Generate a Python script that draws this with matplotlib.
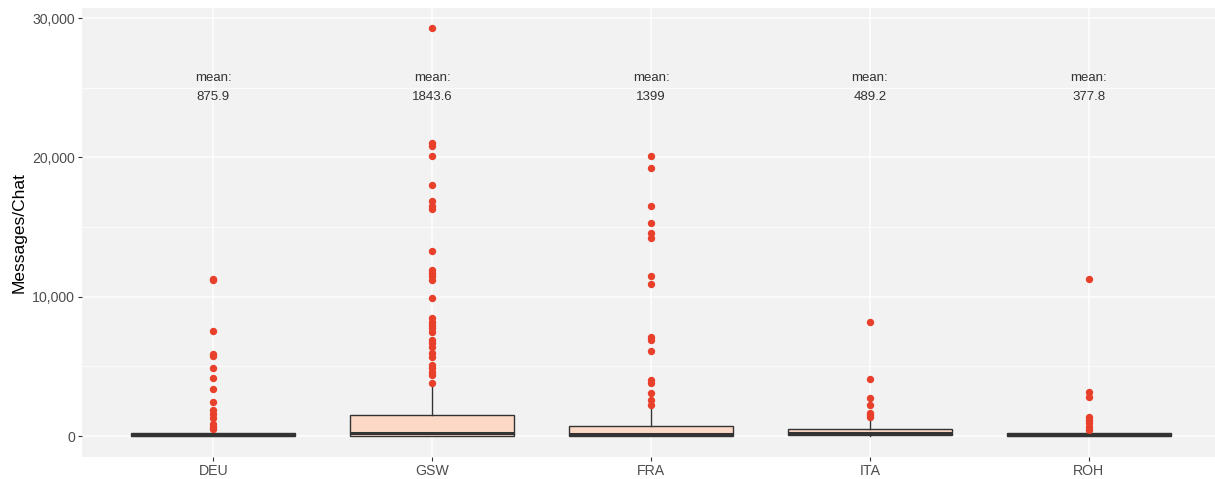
import matplotlib
matplotlib.use("Agg")
import matplotlib.pyplot as plt
from matplotlib.ticker import FuncFormatter, MultipleLocator

plt.rcParams["font.family"] = ["Liberation Sans", "DejaVu Sans"]

languages = ["DEU", "GSW", "FRA", "ITA", "ROH"]
means = [875.9, 1843.6, 1399, 489.2, 377.8]

# box statistics
q1 = [20, 30, 30, 60, 20]
medians = [60, 180, 120, 220, 60]
q3 = [230, 1510, 740, 500, 200]
whisker_low = [0, 0, 0, 0, 0]
whisker_high = [430, 3730, 2000, 1290, 400]

deu_out = [11300, 11200, 7540, 5890, 5740, 4880, 4160, 3370, 2440, 1870, 1580, 1290, 860, 650, 500]
gsw_out = [29300, 21000, 20800, 20100, 18000, 16900, 16500, 16300, 13300, 11900, 11700, 11450,
           11200, 9930, 8450, 8200, 7970, 7730, 7490, 6890, 6650, 6410, 5940, 5690, 5100,
           4860, 4620, 4380, 3780]
fra_out = [20100, 19200, 16500, 15300, 14600, 14200, 11500, 10900, 7100, 6900, 6100, 4000,
           3780, 3060, 2580, 2220]
ita_out = [8150, 4100, 2700, 2220, 1630, 1510, 1390]
roh_out = [11300, 3180, 2820, 1390, 1150, 910, 670, 430]
outliers = [deu_out, gsw_out, fra_out, ita_out, roh_out]

stats = []
for i, lang in enumerate(languages):
    stats.append(dict(label=lang, q1=q1[i], med=medians[i], q3=q3[i],
                      whislo=whisker_low[i], whishi=whisker_high[i], fliers=outliers[i]))

W, H = 1215, 479
fig = plt.figure(figsize=(W / 100, H / 100), dpi=100)
ax = fig.add_axes([82 / W, (H - 457) / H, (1220 - 82) / W, (457 - 8) / H])
ax.set_facecolor("#F2F2F2")

positions = list(range(1, len(languages) + 1))
ax.bxp(stats, positions=positions, widths=0.75, patch_artist=True, showcaps=False,
       boxprops=dict(facecolor="#FCD9C6", edgecolor="#333333", linewidth=1.0),
       medianprops=dict(color="#333333", linewidth=2.2),
       whiskerprops=dict(color="#333333", linewidth=1.0),
       flierprops=dict(marker="o", markerfacecolor="#E8402A", markeredgecolor="#E8402A",
                       markersize=4.3, linestyle="none"),
       zorder=3)

for pos, m in zip(positions, means):
    ax.text(pos, 25000, f"mean:\n{m:g}", ha="center", va="center", fontsize=9.5,
            color="#333333", linespacing=1.75, zorder=4)

ax.set_xlim(0.4, 5.6)
ax.set_ylim(-1507, 30718)
ax.yaxis.set_major_locator(MultipleLocator(10000))
ax.yaxis.set_minor_locator(MultipleLocator(5000))
ax.yaxis.set_major_formatter(FuncFormatter(lambda v, p: f"{int(v):,}"))
ax.set_xticks(positions)
ax.set_xticklabels(languages)

ax.grid(which="major", color="white", linewidth=1.1, zorder=0)
ax.grid(which="minor", axis="y", color="white", linewidth=0.5, zorder=0)
ax.set_axisbelow(True)
for s in ax.spines.values():
    s.set_visible(False)
ax.tick_params(which="major", length=3, color="#333333", labelcolor="#4D4D4D",
               labelsize=10.2, pad=2)
ax.tick_params(which="minor", length=0)
ax.set_ylabel("Messages/Chat", fontsize=12.5, color="black", labelpad=4)

fig.savefig("out.png", dpi=100)
